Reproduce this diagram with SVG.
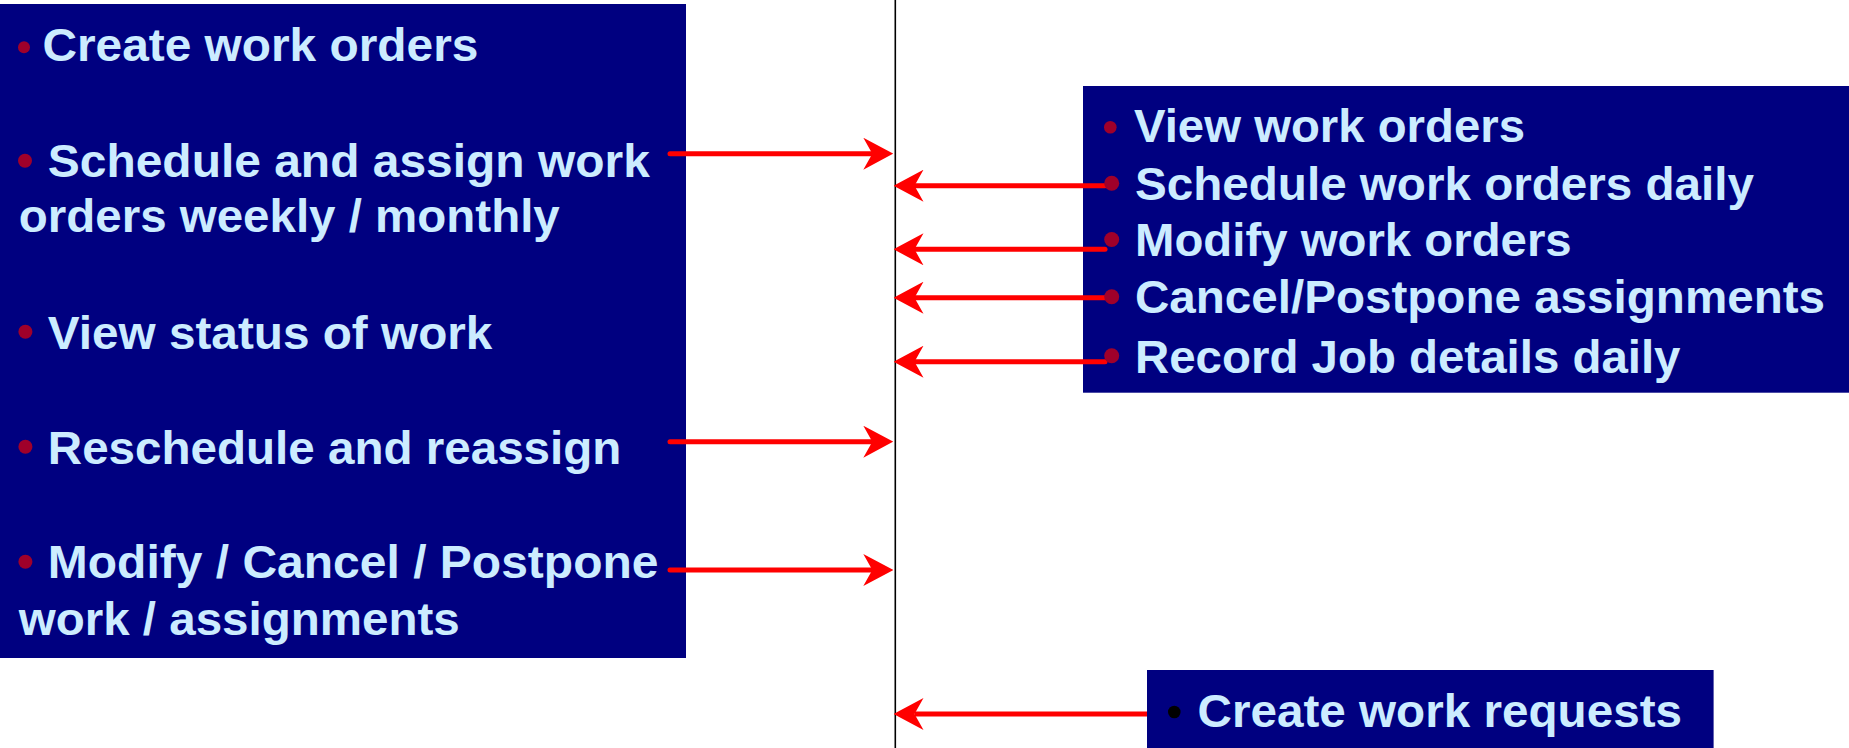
<svg xmlns="http://www.w3.org/2000/svg" width="1849" height="748" viewBox="0 0 1849 748">
<style>
.box{fill:#000080}
.t{font-family:"Liberation Sans",Arial,sans-serif;font-weight:bold;font-size:46px;fill:#CCECFF}
.b{fill:#A0002A}
.bk{fill:#000}
.arr{stroke:#FF0000;stroke-width:5;stroke-linecap:round;fill:none;marker-end:url(#head)}
</style>
<defs>
<marker id="head" markerUnits="userSpaceOnUse" viewBox="0 0 30 32" refX="9" refY="16" markerWidth="30" markerHeight="32" orient="auto">
<path d="M0,0 L30,16 L0,32 L9,16 Z" fill="#FF0000"/>
</marker>
</defs>
<rect width="1849" height="748" fill="#fff"/>
<line x1="895.3" y1="0" x2="895.3" y2="748" stroke="#000" stroke-width="1.6"/>
<g id="left-box">
<rect class="box" x="0" y="4" width="686" height="654"/>
<circle class="b" cx="24" cy="47.3" r="6"/>
<text class="t" x="42.4" y="61" textLength="436" lengthAdjust="spacingAndGlyphs">Create work orders</text>
<circle class="b" cx="25" cy="160.7" r="7"/>
<text class="t" x="47.8" y="176.7" textLength="602" lengthAdjust="spacingAndGlyphs">Schedule and assign work</text>
<text class="t" x="18.75" y="231.7" textLength="541" lengthAdjust="spacingAndGlyphs">orders weekly / monthly</text>
<circle class="b" cx="25.4" cy="331.7" r="7"/>
<text class="t" x="47.8" y="349" textLength="444.6" lengthAdjust="spacingAndGlyphs">View status of work</text>
<circle class="b" cx="25.4" cy="446.7" r="7"/>
<text class="t" x="47.8" y="464" textLength="573.6" lengthAdjust="spacingAndGlyphs">Reschedule and reassign</text>
<circle class="b" cx="25.4" cy="561.7" r="7"/>
<text class="t" x="47.8" y="578.3" textLength="610.7" lengthAdjust="spacingAndGlyphs">Modify / Cancel / Postpone</text>
<text class="t" x="18.75" y="635" textLength="441" lengthAdjust="spacingAndGlyphs">work / assignments</text>
</g>
<g id="right-box">
<rect class="box" x="1083" y="86" width="766" height="306.7"/>
<circle class="b" cx="1110.3" cy="127.3" r="6.3"/>
<text class="t" x="1134" y="141.7" textLength="391" lengthAdjust="spacingAndGlyphs">View work orders</text>
<text class="t" x="1135" y="200" textLength="619" lengthAdjust="spacingAndGlyphs">Schedule work orders daily</text>
<text class="t" x="1135" y="256" textLength="436.7" lengthAdjust="spacingAndGlyphs">Modify work orders</text>
<text class="t" x="1135" y="313.3" textLength="690" lengthAdjust="spacingAndGlyphs">Cancel/Postpone assignments</text>
<text class="t" x="1135" y="372.7" textLength="545.5" lengthAdjust="spacingAndGlyphs">Record Job details daily</text>
</g>
<g id="bottom-box">
<rect class="box" x="1147" y="670" width="566.6" height="78"/>
<circle class="bk" cx="1174.3" cy="712" r="6.3"/>
<text class="t" x="1197.5" y="727.3" textLength="484.5" lengthAdjust="spacingAndGlyphs">Create work requests</text>
</g>
<g id="connectors">
<line class="arr" x1="670" y1="153.7" x2="872.3" y2="153.7"/>
<line class="arr" x1="670" y1="441.7" x2="872.3" y2="441.7"/>
<line class="arr" x1="670" y1="570" x2="872.3" y2="570"/>
<line class="arr" x1="1105" y1="185.7" x2="914.5" y2="185.7"/>
<line class="arr" x1="1105" y1="249.3" x2="914.5" y2="249.3"/>
<line class="arr" x1="1105" y1="297.7" x2="914.5" y2="297.7"/>
<line class="arr" x1="1105" y1="361.7" x2="914.5" y2="361.7"/>
<line class="arr" x1="1147" y1="714" x2="914.5" y2="714" style="stroke-linecap:butt"/>
</g>
<g id="right-bullets">
<circle class="b" cx="1111.7" cy="183.3" r="7.5"/>
<circle class="b" cx="1111.7" cy="239.5" r="7.5"/>
<circle class="b" cx="1111.7" cy="296.7" r="7.5"/>
<circle class="b" cx="1111.7" cy="355.7" r="7.5"/>
</g>
</svg>
